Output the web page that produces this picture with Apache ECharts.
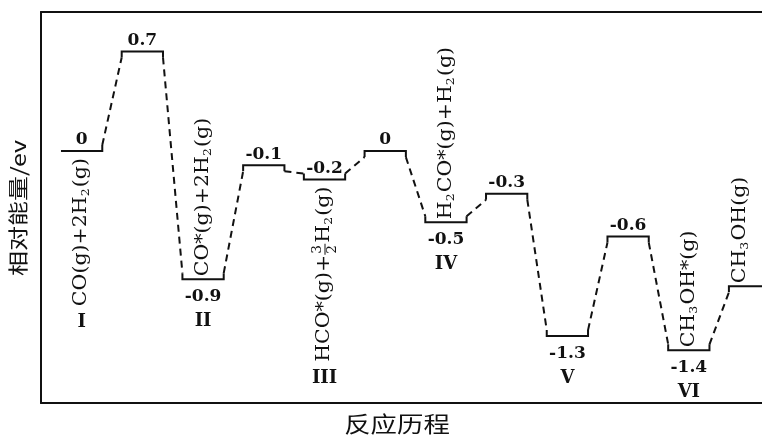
<!DOCTYPE html>
<html><head><meta charset="utf-8">
<script src="https://cdn.jsdelivr.net/npm/echarts@6/dist/echarts.min.js"></script>
<style>html,body{margin:0;padding:0;background:#fff}#c{width:762px;height:435px}</style>
</head><body><div id="c"></div>
<script>
// ---- data ----
const steps = ['I', 'TS1', 'II', 'TS2', 'III', 'TS3', 'IV', 'TS4', 'V', 'TS5', 'VI', 'P'];
const energies = [0, 0.7, -0.9, -0.1, -0.2, 0, -0.5, -0.3, -1.3, -0.6, -1.4, -0.95];
const energyLabels = ['0', '0.7', '-0.9', '-0.1', '-0.2', '0', '-0.5', '-0.3', '-1.3', '-0.6', '-1.4', ''];
const species = ['CO(g)+2H_2(g)', '', 'CO*(g)+2H_2(g)', '', 'HCO*(g)+{3/2}H_2(g)', '', 'H_2CO*(g)+H_2(g)', '', '', '', 'CH_3OH*(g)', 'CH_3OH(g)'];
const stateNames = ['I', '', 'II', '', 'III', '', 'IV', '', 'V', '', 'VI', ''];
const yTitle = '相对能量/ev';
const xTitle = '反应历程';

// ---- rendering config ----
const INK = '#111';
const valueBelow = new Set([2, 6, 8, 10]);
const F_MAIN = '18px "DejaVu Serif"', F_SUB = '11px "DejaVu Serif"', F_FRAC = '12px "DejaVu Serif"';
const F_VAL = 'bold 17px "DejaVu Serif"', F_ROMAN = 'bold 18px "DejaVu Serif"';
const STRETCH = 1.14;
const mctx = document.createElement('canvas').getContext('2d');
function tw(t, font) { mctx.font = font; return mctx.measureText(t).width; }

function parseSpecies(s) {
  const segs = []; let i = 0, buf = '';
  const flush = () => { if (buf) { segs.push({ k: 'n', t: buf }); buf = ''; } };
  while (i < s.length) {
    const ch = s[i];
    if (ch === '_') { flush(); segs.push({ k: 's', t: s[i + 1] }); i += 2; }
    else if (ch === '{') { flush(); const j = s.indexOf('}', i); const p = s.slice(i + 1, j).split('/'); segs.push({ k: 'f', a: p[0], b: p[1] }); i = j + 1; }
    else { buf += ch; i++; }
  }
  flush();
  return segs;
}
function txt(x, y, t, font, align) {
  return { type: 'text', x: x, y: y, style: { text: t, font: font, fill: INK, align: align || 'left', verticalAlign: 'middle', textAlign: align || 'left', textVerticalAlign: 'middle' } };
}
function buildLabel(s) {
  const segs = parseSpecies(s);
  const items = []; let x = 0;
  segs.forEach(seg => {
    if (seg.k === 'n') { items.push({ x: x, y: 0, t: seg.t, f: F_MAIN }); x += tw(seg.t, F_MAIN); }
    else if (seg.k === 's') { items.push({ x: x, y: 5, t: seg.t, f: F_SUB }); x += tw(seg.t, F_SUB) + 1; }
    else {
      const w = Math.max(tw(seg.a, F_FRAC), tw(seg.b, F_FRAC)) + 2;
      items.push({ x: x + w / 2, y: -7, t: seg.a, f: F_FRAC, c: true });
      items.push({ x: x + w / 2, y: 8, t: seg.b, f: F_FRAC, c: true });
      items.push({ bar: true, x1: x, x2: x + w });
      x += w + 1;
    }
  });
  return { items: items, len: x };
}
function labelGroup(s, ax, ay, below) {
  const L = buildLabel(s);
  const off = below ? -L.len : 0;
  const children = L.items.map(it => it.bar
    ? { type: 'line', shape: { x1: it.x1 + off, y1: 0.5, x2: it.x2 + off, y2: 0.5 }, style: { stroke: INK, lineWidth: 1 } }
    : txt(it.x + off, it.y, it.t, it.f, it.c ? 'center' : 'left'));
  return { group: { type: 'group', x: ax, y: ay, rotation: Math.PI / 2, scaleX: STRETCH, children: children }, len: L.len * STRETCH };
}

function renderItem(params, api) {
  const i = params.dataIndex;
  const c = api.coord([i, energies[i]]);
  const hw = api.size([0.34, 0])[0];
  const xl = c[0] - hw, xr = c[0] + hw, y = c[1];
  const children = [];
  const H = 6;
  let leftHook = y, rightHook = y;
  if (i > 0) { const p = api.coord([i - 1, energies[i - 1]]); leftHook = y + (p[1] < y ? -H : H); }
  let n = null;
  if (i < energies.length - 1) { n = api.coord([i + 1, energies[i + 1]]); rightHook = y + (n[1] < y ? -H : H); }
  children.push({ type: 'polyline', shape: { points: [[xl, leftHook], [xl, y], [xr, y], [xr, rightHook]] }, style: { stroke: INK, lineWidth: 2, fill: null } });
  if (n) {
    const nxl = n[0] - hw;
    const nHook = n[1] + (y < n[1] ? -H : H);
    children.push({ type: 'line', shape: { x1: xr, y1: rightHook, x2: nxl, y2: nHook }, style: { stroke: INK, lineWidth: 2, lineDash: [7, 5] } });
  }
  const below = valueBelow.has(i);
  if (energyLabels[i]) {
    children.push(txt(c[0], below ? y + 17 : y - 11, energyLabels[i], F_VAL, 'center'));
  }
  let romanY = y + 42;
  if (species[i]) {
    const isLast = i === energies.length - 1;
    const speciesBelow = !below && !isLast;
    const ax = isLast ? xl + 11 : c[0];
    const ay = speciesBelow ? y + 7 : y - 3;
    const g = labelGroup(species[i], ax, ay, speciesBelow);
    children.push(g.group);
    if (speciesBelow) romanY = ay + g.len + 16;
  }
  if (stateNames[i]) children.push(txt(c[0], romanY, stateNames[i], F_ROMAN, 'center'));
  return { type: 'group', children: children };
}

const axisLineOnly = { show: true, onZero: false, lineStyle: { color: INK, width: 2 } };
const chart = echarts.init(document.getElementById('c'), null, { renderer: 'canvas' });
chart.setOption({
  animation: false,
  backgroundColor: '#fff',
  grid: { left: 41, top: 12, right: 0, bottom: 32 },
  xAxis: [
    { type: 'value', min: -0.669, max: 11.205, position: 'bottom', axisLine: axisLineOnly, axisTick: { show: false }, axisLabel: { show: false }, splitLine: { show: false } },
    { type: 'value', min: -0.669, max: 11.205, position: 'top', axisLine: axisLineOnly, axisTick: { show: false }, axisLabel: { show: false }, splitLine: { show: false } }
  ],
  yAxis: { type: 'value', min: -1.77, max: 0.977, axisLine: axisLineOnly, axisTick: { show: false }, axisLabel: { show: false }, splitLine: { show: false } },
  graphic: [
    { type: 'text', x: 18, y: 208, rotation: Math.PI / 2, scaleX: 1.25, style: { text: yTitle, font: '20px "Noto Sans CJK SC"', fill: INK, align: 'center', verticalAlign: 'middle', textAlign: 'center', textVerticalAlign: 'middle' } },
    { type: 'text', x: 397, y: 424, scaleX: 1.2, style: { text: xTitle, font: '22px "Noto Sans CJK SC"', fill: INK, align: 'center', verticalAlign: 'middle', textAlign: 'center', textVerticalAlign: 'middle' } }
  ],
  series: [{
    type: 'custom',
    name: 'energy',
    clip: false,
    xAxisIndex: 0,
    renderItem: renderItem,
    data: energies.map((e, i) => [i, e, steps[i]])
  }]
});
</script>
</body></html>
